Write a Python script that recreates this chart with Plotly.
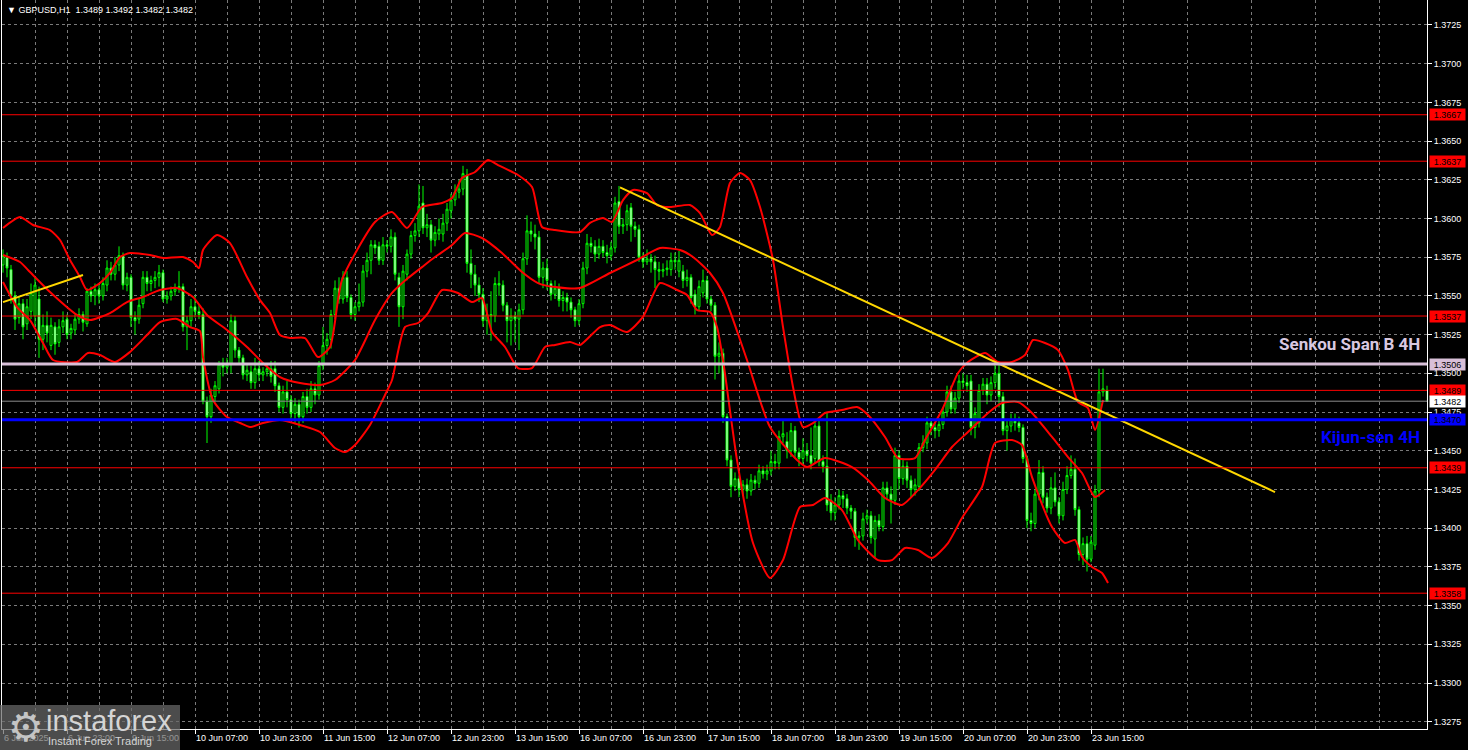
import plotly.graph_objects as go

symbol = "GBPUSD,H1"

opens = [1.3570,1.3575,1.3567,1.3550,1.3536,1.3545,1.3532,1.3540,1.3537,1.3548,
1.3522,1.3531,1.3518,1.3530,1.3520,1.3530,1.3535,1.3526,1.3528,1.3535,
1.3538,1.3532,1.3553,1.3550,1.3554,1.3550,1.3557,1.3568,1.3564,1.3570,
1.3576,1.3557,1.3562,1.3536,1.3535,1.3545,1.3562,1.3558,1.3560,1.3562,
1.3565,1.3548,1.3550,1.3553,1.3555,1.3556,1.3530,1.3534,1.3543,1.3540,
1.3538,1.3482,1.3472,1.3485,1.3490,1.3506,1.3504,1.3506,1.3534,1.3515,
1.3510,1.3499,1.3501,1.3494,1.3503,1.3499,1.3501,1.3503,1.3503,1.3492,
1.3478,1.3488,1.3483,1.3474,1.3480,1.3472,1.3485,1.3478,1.3490,1.3486,
1.3505,1.3518,1.3522,1.3538,1.3555,1.3548,1.3562,1.3549,1.3538,1.3543,
1.3546,1.3566,1.3573,1.3583,1.3582,1.3573,1.3583,1.3582,1.3588,1.3562,
1.3543,1.3564,1.3577,1.3589,1.3592,1.3610,1.3594,1.3596,1.3586,1.3590,
1.3590,1.3597,1.3605,1.3612,1.3617,1.3619,1.3628,1.3571,1.3564,1.3557,
1.3551,1.3534,1.3538,1.3537,1.3558,1.3557,1.3544,1.3534,1.3537,1.3535,
1.3541,1.3574,1.3592,1.3590,1.3588,1.3562,1.3568,1.3558,1.3551,1.3555,
1.3547,1.3549,1.3546,1.3541,1.3534,1.3545,1.3568,1.3584,1.3582,1.3577,
1.3582,1.3578,1.3576,1.3581,1.3611,1.3595,1.3596,1.3607,1.3595,1.3593,
1.3575,1.3572,1.3574,1.3572,1.3567,1.3566,1.3567,1.3567,1.3573,1.3566,
1.3566,1.3560,1.3562,1.3551,1.3543,1.3552,1.3560,1.3548,1.3544,1.3511,
1.3513,1.3472,1.3444,1.3427,1.3432,1.3425,1.3428,1.3424,1.3431,1.3429,
1.3437,1.3435,1.3437,1.3443,1.3442,1.3459,1.3456,1.3450,1.3463,1.3449,
1.3445,1.3450,1.3447,1.3445,1.3466,1.3443,1.3440,1.3418,1.3410,1.3415,
1.3421,1.3419,1.3413,1.3411,1.3394,1.3395,1.3406,1.3408,1.3393,1.3405,
1.3401,1.3426,1.3422,1.3418,1.3447,1.3432,1.3440,1.3431,1.3425,1.3427,
1.3452,1.3455,1.3468,1.3465,1.3463,1.3467,1.3475,1.3488,1.3477,1.3484,
1.3495,1.3494,1.3495,1.3465,1.3468,1.3489,1.3493,1.3486,1.3494,1.3500,
1.3485,1.3463,1.3466,1.3470,1.3468,1.3465,1.3445,1.3405,1.3403,1.3422,
1.3436,1.3420,1.3413,1.3426,1.3417,1.3408,1.3425,1.3434,1.3438,1.3412,
1.3383,1.3390,1.3380,1.3389,1.3424,1.3488,1.3489]

highs = [1.3580,1.3578,1.3570,1.3553,1.3550,1.3548,1.3548,1.3558,1.3562,1.3556,
1.3538,1.3540,1.3536,1.3533,1.3535,1.3540,1.3538,1.3532,1.3538,1.3542,
1.3540,1.3555,1.3556,1.3558,1.3557,1.3562,1.3573,1.3572,1.3575,1.3582,
1.3578,1.3565,1.3564,1.3540,1.3548,1.3566,1.3566,1.3563,1.3566,1.3570,
1.3567,1.3553,1.3556,1.3558,1.3566,1.3558,1.3537,1.3548,1.3550,1.3544,
1.3542,1.3485,1.3490,1.3495,1.3508,1.3510,1.3510,1.3538,1.3537,1.3517,
1.3512,1.3506,1.3505,1.3510,1.3508,1.3504,1.3506,1.3508,1.3508,1.3494,
1.3492,1.3495,1.3486,1.3484,1.3483,1.3488,1.3490,1.3495,1.3494,1.3508,
1.3530,1.3526,1.3541,1.3560,1.3562,1.3566,1.3566,1.3551,1.3546,1.3558,
1.3570,1.3578,1.3586,1.3586,1.3585,1.3588,1.3586,1.3593,1.3591,1.3565,
1.3570,1.3580,1.3592,1.3597,1.3622,1.3621,1.3603,1.3599,1.3595,1.3600,
1.3603,1.3610,1.3616,1.3622,1.3625,1.3634,1.3632,1.3580,1.3570,1.3562,
1.3555,1.3545,1.3553,1.3562,1.3566,1.3560,1.3546,1.3542,1.3540,1.3545,
1.3578,1.3602,1.3598,1.3596,1.3592,1.3572,1.3574,1.3560,1.3560,1.3558,
1.3553,1.3552,1.3549,1.3543,1.3548,1.3572,1.3590,1.3588,1.3586,1.3587,
1.3586,1.3583,1.3585,1.3614,1.3621,1.3600,1.3609,1.3610,1.3598,1.3596,
1.3578,1.3580,1.3577,1.3576,1.3572,1.3571,1.3573,1.3578,1.3578,1.3579,
1.3570,1.3567,1.3564,1.3554,1.3560,1.3567,1.3563,1.3550,1.3546,1.3520,
1.3516,1.3474,1.3447,1.3436,1.3434,1.3431,1.3432,1.3435,1.3434,1.3441,
1.3440,1.3441,1.3450,1.3448,1.3463,1.3470,1.3462,1.3468,1.3466,1.3452,
1.3458,1.3455,1.3465,1.3470,1.3470,1.3447,1.3475,1.3422,1.3420,1.3425,
1.3424,1.3422,1.3415,1.3413,1.3398,1.3410,1.3412,1.3411,1.3408,1.3409,
1.3430,1.3430,1.3427,1.3452,1.3450,1.3445,1.3443,1.3434,1.3432,1.3455,
1.3460,1.3472,1.3471,1.3468,1.3471,1.3478,1.3492,1.3492,1.3488,1.3499,
1.3500,1.3499,1.3499,1.3478,1.3493,1.3497,1.3497,1.3498,1.3507,1.3507,
1.3488,1.3470,1.3474,1.3474,1.3472,1.3467,1.3447,1.3410,1.3425,1.3444,
1.3440,1.3423,1.3433,1.3436,1.3420,1.3430,1.3440,1.3447,1.3445,1.3414,
1.3394,1.3395,1.3395,1.3428,1.3503,1.3503,1.3492]

lows = [1.3565,1.3562,1.3545,1.3528,1.3532,1.3522,1.3528,1.3535,1.3530,1.3510,
1.3515,1.3520,1.3515,1.3512,1.3517,1.3526,1.3522,1.3522,1.3525,1.3532,
1.3527,1.3530,1.3546,1.3544,1.3545,1.3547,1.3553,1.3560,1.3560,1.3566,
1.3554,1.3553,1.3530,1.3525,1.3532,1.3542,1.3553,1.3553,1.3555,1.3556,
1.3546,1.3545,1.3547,1.3550,1.3552,1.3527,1.3515,1.3530,1.3536,1.3535,
1.3480,1.3455,1.3468,1.3482,1.3487,1.3498,1.3500,1.3500,1.3510,1.3506,
1.3496,1.3495,1.3490,1.3490,1.3495,1.3495,1.3498,1.3494,1.3488,1.3475,
1.3474,1.3478,1.3470,1.3468,1.3465,1.3468,1.3474,1.3475,1.3480,1.3483,
1.3502,1.3512,1.3516,1.3535,1.3545,1.3545,1.3546,1.3535,1.3534,1.3540,
1.3543,1.3562,1.3564,1.3577,1.3570,1.3570,1.3578,1.3578,1.3560,1.3530,
1.3535,1.3560,1.3574,1.3585,1.3588,1.3590,1.3588,1.3578,1.3582,1.3586,
1.3585,1.3592,1.3600,1.3608,1.3613,1.3615,1.3565,1.3555,1.3550,1.3546,
1.3530,1.3525,1.3521,1.3533,1.3550,1.3540,1.3520,1.3518,1.3520,1.3515,
1.3538,1.3570,1.3585,1.3580,1.3558,1.3555,1.3554,1.3547,1.3548,1.3543,
1.3540,1.3540,1.3536,1.3530,1.3531,1.3542,1.3564,1.3578,1.3572,1.3574,
1.3575,1.3571,1.3573,1.3578,1.3590,1.3590,1.3592,1.3585,1.3588,1.3572,
1.3568,1.3570,1.3565,1.3555,1.3560,1.3562,1.3563,1.3563,1.3567,1.3562,
1.3555,1.3556,1.3545,1.3538,1.3540,1.3549,1.3545,1.3540,1.3496,1.3500,
1.3468,1.3440,1.3420,1.3424,1.3420,1.3421,1.3419,1.3421,1.3425,1.3426,
1.3432,1.3431,1.3434,1.3438,1.3438,1.3455,1.3445,1.3446,1.3445,1.3440,
1.3441,1.3443,1.3438,1.3442,1.3440,1.3436,1.3411,1.3405,1.3405,1.3412,
1.3413,1.3409,1.3406,1.3388,1.3386,1.3392,1.3403,1.3390,1.3381,1.3398,
1.3398,1.3418,1.3403,1.3415,1.3425,1.3428,1.3426,1.3420,1.3421,1.3424,
1.3449,1.3451,1.3460,1.3458,1.3459,1.3464,1.3472,1.3474,1.3474,1.3481,
1.3490,1.3488,1.3460,1.3458,1.3465,1.3486,1.3480,1.3482,1.3490,1.3478,
1.3460,1.3450,1.3462,1.3463,1.3462,1.3442,1.3400,1.3398,1.3400,1.3418,
1.3416,1.3410,1.3409,1.3414,1.3403,1.3405,1.3422,1.3432,1.3408,1.3379,
1.3376,1.3372,1.3378,1.3386,1.3420,1.3485,1.3482]

closes = [1.3576,1.3568,1.3550,1.3535,1.3545,1.3530,1.3543,1.3552,1.3557,1.3522,
1.3531,1.3526,1.3531,1.3519,1.3530,1.3534,1.3525,1.3529,1.3535,1.3538,
1.3533,1.3553,1.3550,1.3554,1.3550,1.3558,1.3568,1.3564,1.3570,1.3576,
1.3557,1.3562,1.3536,1.3534,1.3544,1.3562,1.3558,1.3560,1.3562,1.3565,
1.3548,1.3550,1.3553,1.3555,1.3556,1.3530,1.3534,1.3543,1.3540,1.3538,
1.3482,1.3472,1.3486,1.3492,1.3506,1.3504,1.3506,1.3534,1.3515,1.3510,
1.3499,1.3502,1.3494,1.3503,1.3499,1.3501,1.3503,1.3498,1.3492,1.3478,
1.3488,1.3483,1.3474,1.3480,1.3472,1.3485,1.3478,1.3490,1.3486,1.3505,
1.3518,1.3522,1.3538,1.3555,1.3548,1.3562,1.3549,1.3538,1.3543,1.3546,
1.3566,1.3573,1.3583,1.3581,1.3573,1.3583,1.3582,1.3588,1.3564,1.3543,
1.3566,1.3577,1.3589,1.3592,1.3608,1.3594,1.3596,1.3586,1.3591,1.3593,
1.3597,1.3606,1.3612,1.3617,1.3619,1.3629,1.3571,1.3564,1.3557,1.3551,
1.3534,1.3538,1.3537,1.3558,1.3557,1.3544,1.3534,1.3537,1.3535,1.3541,
1.3574,1.3592,1.3590,1.3588,1.3562,1.3568,1.3560,1.3551,1.3555,1.3547,
1.3549,1.3546,1.3541,1.3534,1.3545,1.3568,1.3584,1.3582,1.3577,1.3582,
1.3578,1.3576,1.3581,1.3610,1.3595,1.3596,1.3605,1.3595,1.3593,1.3575,
1.3572,1.3574,1.3572,1.3567,1.3566,1.3567,1.3568,1.3573,1.3572,1.3573,
1.3560,1.3562,1.3549,1.3543,1.3556,1.3560,1.3548,1.3544,1.3511,1.3513,
1.3472,1.3444,1.3427,1.3432,1.3425,1.3428,1.3424,1.3431,1.3429,1.3437,
1.3435,1.3437,1.3443,1.3442,1.3459,1.3461,1.3450,1.3463,1.3449,1.3445,
1.3450,1.3447,1.3442,1.3466,1.3443,1.3440,1.3415,1.3410,1.3415,1.3421,
1.3419,1.3413,1.3411,1.3394,1.3395,1.3406,1.3408,1.3394,1.3405,1.3401,
1.3426,1.3422,1.3418,1.3447,1.3432,1.3440,1.3431,1.3425,1.3428,1.3452,
1.3455,1.3468,1.3465,1.3463,1.3467,1.3475,1.3488,1.3477,1.3484,1.3495,
1.3494,1.3492,1.3465,1.3474,1.3489,1.3493,1.3486,1.3494,1.3500,1.3485,
1.3463,1.3466,1.3470,1.3468,1.3465,1.3445,1.3405,1.3403,1.3422,1.3436,
1.3420,1.3413,1.3426,1.3417,1.3408,1.3425,1.3434,1.3438,1.3412,1.3383,
1.3390,1.3380,1.3391,1.3424,1.3488,1.3490,1.3482]

bar_index = list(range(len(closes)))

# x-axis labels (bar index of each label)
tick_pos = [0, 16, 32, 48, 64, 80, 96, 112, 128, 144, 160, 176, 192, 208, 224, 240, 256, 272]
tick_text = ["6 Jun 2025", "6 Jun 23:00", "9 Jun 15:00", "10 Jun 07:00", "10 Jun 23:00",
             "11 Jun 15:00", "12 Jun 07:00", "12 Jun 23:00", "13 Jun 15:00", "16 Jun 07:00",
             "16 Jun 23:00", "17 Jun 15:00", "18 Jun 07:00", "18 Jun 23:00", "19 Jun 15:00",
             "20 Jun 07:00", "20 Jun 23:00", "23 Jun 15:00"]

# Bollinger bands (bar index, price)
bb_up_x = [0,4.25,7.5,11.75,14.25,16.75,19.25,21,24.25,26.75,29.25,31.75,36.75,40,45,47.5,49,50,53.5,56.75,
           61,64.25,66.75,69.25,71.75,75.5,78.75,81.75,84.75,93,97.25,101,104.75,109.75,112.25,114.75,118,121.25,123.75,128.75,
           132.25,134.75,138,144.25,146.75,150,152.25,155,157.5,161,163.5,166.75,171.75,174.25,177.25,179.25,181.75,184.25,186.75,189.25,
           192.5,195,197.5,200,202.5,205.5,209.75,213.5,216.25,220.5,223.75,228,230.5,234.75,238.75,241.25,245.5,248.75,252.25,255.5,
           257.5,260.5,263.75,266.25,268.75,271.25,273,275]
bb_up_y = [1.35938,1.36009,1.35958,1.35925,1.35861,1.35732,1.35622,1.35538,1.35583,1.35648,1.35751,1.35777,1.35764,1.35745,1.35751,1.35719,1.35680,1.35796,1.35893,1.35841,
           1.35622,1.35473,1.35389,1.35247,1.35228,1.35228,1.35105,1.35170,1.35603,1.35977,1.36042,1.35938,1.36074,1.36100,1.36132,1.36261,1.36300,1.36378,1.36345,1.36281,
           1.36203,1.35945,1.35925,1.35913,1.35971,1.36003,1.35977,1.36119,1.36184,1.36164,1.36087,1.36074,1.36087,1.36035,1.35893,1.35945,1.36229,1.36294,1.36248,1.36074,
           1.35732,1.35299,1.34912,1.34653,1.34679,1.34744,1.34763,1.34782,1.34731,1.34589,1.34453,1.34453,1.34569,1.34763,1.35002,1.35073,1.35131,1.35073,1.35073,1.35118,
           1.35215,1.35196,1.35150,1.35021,1.34815,1.34776,1.34634,1.34828]

bb_mid_x = [0,4.25,6.75,11.75,18.5,21.75,26.75,31,35,39.25,43.5,47.5,51,56,61,65,69.25,74.25,79.25,83,
            88,93,97.25,101.25,104.75,108,112.25,115.5,119.75,124.75,129.75,133.75,138,144.25,151.75,158.5,164.25,169.25,172.5,176.75,
            180,186,191.75,198.5,201,205.5,212.25,216.25,220.5,224.75,228.75,233,237.25,241.25,246.25,249.75,253.75,257.25,262.25,266.25,
            269.75,273,275.5]
bb_mid_y = [1.35764,1.35719,1.35654,1.35525,1.35377,1.35344,1.35389,1.35460,1.35493,1.35538,1.35551,1.35493,1.35377,1.35280,1.35170,1.35067,1.34976,1.34937,1.34924,1.34957,
            1.35086,1.35344,1.35519,1.35615,1.35686,1.35751,1.35829,1.35906,1.35874,1.35777,1.35654,1.35583,1.35557,1.35551,1.35648,1.35732,1.35809,1.35796,1.35751,1.35648,
            1.35519,1.35086,1.34653,1.34440,1.34395,1.34453,1.34395,1.34311,1.34195,1.34150,1.34246,1.34376,1.34524,1.34621,1.34744,1.34808,1.34815,1.34744,1.34589,1.34459,
            1.34356,1.34201,1.34246]

bb_low_x = [0,3.5,6.75,10,12.5,18.5,21.25,24.25,28,31.75,36,39.25,43.5,46.75,49.25,50,52.5,56,59.25,61.75,
            65,69.25,74.25,79.25,83,85.5,88,91.75,95.5,97.25,100.5,103.75,106.25,109.75,113.75,117.25,119.75,122.25,125.5,128.75,
            132.25,135.5,138,141.75,144.25,149.25,151.75,156,160,164.25,168.5,171,173.5,176.75,178.5,180,183.5,187.5,191.75,195,
            199.25,202.5,205.5,209.75,213.75,218.75,222.25,225.5,228.75,232.25,236.25,239.75,244.75,248,252.25,254.75,257.25,262.25,265.5,268,
            269.75,272.25,274.75,276.25]
bb_low_y = [1.35590,1.35428,1.35344,1.35196,1.35086,1.35073,1.35131,1.35118,1.35073,1.35138,1.35247,1.35331,1.35351,1.35299,1.35273,1.35105,1.34828,1.34718,1.34679,1.34653,
            1.34679,1.34698,1.34666,1.34621,1.34518,1.34492,1.34537,1.34666,1.34860,1.34957,1.35299,1.35325,1.35389,1.35538,1.35519,1.35460,1.35486,1.35267,1.35170,1.35034,
            1.35034,1.35170,1.35183,1.35202,1.35183,1.35299,1.35312,1.35267,1.35364,1.35583,1.35538,1.35506,1.35409,1.35396,1.35299,1.35086,1.34440,1.33904,1.33678,1.33794,
            1.34137,1.34150,1.34195,1.34117,1.33923,1.33794,1.33794,1.33872,1.33859,1.33807,1.33904,1.34066,1.34266,1.34550,1.34569,1.34537,1.34330,1.34007,1.33904,1.33924,
            1.33814,1.33749,1.33710,1.33646]

# yellow trend lines (bar index, price)
trend1_x = [0, 20]
trend1_y = [1.35460, 1.35635]
trend2_x = [154.25, 318]
trend2_y = [1.36201, 1.34233]

# horizontal levels
red_levels = [1.3667, 1.3637, 1.3537, 1.3489, 1.3439, 1.3358]
senkou_b_4h = 1.3506
kijun_4h = 1.3470
last_price = closes[-1]

FONT = "Liberation Sans, Arial, sans-serif"
GRID = "#7a7a7a"
THISTLE = "#D8BFD8"

fig = go.Figure()

fig.add_trace(go.Candlestick(
    x=bar_index, open=opens, high=highs, low=lows, close=closes,
    increasing=dict(line=dict(color="#00FF00", width=1), fillcolor="#000000"),
    decreasing=dict(line=dict(color="#00FF00", width=1), fillcolor="#FFFFFF"),
    whiskerwidth=0, showlegend=False, hoverinfo="skip"))

for bx, by in [(bb_up_x, bb_up_y), (bb_mid_x, bb_mid_y), (bb_low_x, bb_low_y)]:
    fig.add_trace(go.Scatter(x=bx, y=by, mode="lines",
                             line=dict(color="#FF0000", width=2, shape="spline", smoothing=0.6),
                             showlegend=False, hoverinfo="skip"))

for tx, ty in [(trend1_x, trend1_y), (trend2_x, trend2_y)]:
    fig.add_trace(go.Scatter(x=tx, y=ty, mode="lines",
                             line=dict(color="#FFD700", width=2),
                             showlegend=False, hoverinfo="skip"))

shapes = []
for lv in red_levels:
    shapes.append(dict(type="line", xref="paper", x0=0, x1=1, yref="y", y0=lv, y1=lv,
                       line=dict(color="#FF0000", width=1), layer="above"))
shapes.append(dict(type="line", xref="paper", x0=0, x1=1, yref="y", y0=last_price, y1=last_price,
                   line=dict(color="#8c8c8c", width=1), layer="above"))
shapes.append(dict(type="line", xref="paper", x0=0, x1=1, yref="y", y0=senkou_b_4h, y1=senkou_b_4h,
                   line=dict(color=THISTLE, width=3), layer="above"))
shapes.append(dict(type="line", xref="paper", x0=0, x1=1, yref="y", y0=kijun_4h, y1=kijun_4h,
                   line=dict(color="#0000FF", width=3), layer="above"))

# watermark box (bottom-left)
W, H = 1468, 750
ML, MR, MT, MB = 2, 41, 0, 21
PW, PH = W - ML - MR, H - MT - MB
def px(xp):
    return (xp - ML) / PW
def py(yp):
    return (H - MB - yp) / PH
shapes.append(dict(type="rect", xref="paper", yref="paper", x0=px(0), x1=px(180), y0=py(750), y1=py(705),
                   fillcolor="#6a6a6a", opacity=0.72, line=dict(width=0), layer="above"))

annotations = []
# price boxes on the right axis
box_specs = [(lv, "#FF0000") for lv in red_levels] + [(senkou_b_4h, THISTLE), (last_price, "#FFFFFF"), (kijun_4h, "#0000FF")]
for lv, col in box_specs:
    annotations.append(dict(xref="paper", x=1, xanchor="left", xshift=2, yref="y", y=lv, yanchor="middle",
                            text=f"{lv:.4f}", showarrow=False, bgcolor=col, borderpad=0,
                            width=35, height=11, align="center",
                            font=dict(family=FONT, size=9, color="#000000")))

LBL_FONT = "Roboto, Liberation Sans, Arial, sans-serif"
annotations.append(dict(xref="paper", x=1, xanchor="right", xshift=-5, yref="paper", y=1, yanchor="middle",
                        yshift=-344, text="<b>Senkou Span B 4H</b>", showarrow=False,
                        font=dict(family=LBL_FONT, size=17, color="#D8C8E0")))
annotations.append(dict(xref="paper", x=1, xanchor="right", xshift=-5, yref="paper", y=1, yanchor="middle",
                        yshift=-437, text="<b>Kijun-sen 4H</b>", showarrow=False,
                        font=dict(family=LBL_FONT, size=17, color="#0000FF")))

title_txt = f"\u25BC {symbol}  {opens[-1]:.4f} {highs[-1]:.4f} {lows[-1]:.4f} {closes[-1]:.4f}"
annotations.append(dict(xref="paper", x=0, xanchor="left", xshift=3, yref="paper", y=1, yanchor="top",
                        yshift=-3, text=title_txt, showarrow=False,
                        font=dict(family=FONT, size=9, color="#FFFFFF")))

# watermark texts
annotations.append(dict(xref="paper", x=0, xanchor="center", xshift=24, yref="paper", y=0, yanchor="middle",
                        yshift=729 - 727, text="\u2699", showarrow=False,
                        font=dict(family="DejaVu Sans", size=40, color="#c4c4c4")))
annotations.append(dict(xref="paper", x=0, xanchor="left", xshift=42, yref="paper", y=0, yanchor="middle",
                        yshift=729 - 721, text="instaforex", showarrow=False,
                        font=dict(family="Liberation Sans, Arial", size=29, color="#d4d4d4")))
annotations.append(dict(xref="paper", x=0, xanchor="left", xshift=44, yref="paper", y=0, yanchor="middle",
                        yshift=729 - 741, text="Instant Forex Trading", showarrow=False,
                        font=dict(family="Liberation Sans, Arial", size=11, color="#d4d4d4")))

fig.update_layout(
    width=W, height=H,
    margin=dict(l=ML, r=MR, t=MT, b=MB, pad=0),
    paper_bgcolor="#000000", plot_bgcolor="#000000",
    shapes=shapes, annotations=annotations,
    showlegend=False,
    xaxis=dict(range=[-0.25, 356], rangeslider=dict(visible=False),
               tickmode="array", tickvals=tick_pos, ticktext=tick_text,
               ticks="outside", ticklen=4, tickcolor="#FFFFFF", ticklabelposition="outside right",
               tickfont=dict(family=FONT, size=9, color="#FFFFFF"),
               showline=True, linecolor="#FFFFFF", linewidth=1,
               showgrid=True, gridcolor=GRID, griddash="3px,3px", gridwidth=1,
               minor=dict(tickmode="array", tickvals=list(range(8, 357, 16)), showgrid=True,
                          gridcolor=GRID, griddash="3px,3px", gridwidth=1, ticks=""),
               zeroline=False, fixedrange=True),
    yaxis=dict(range=[1.32703, 1.37411], side="right",
               tickmode="linear", tick0=1.3, dtick=0.0025, tickformat=".4f",
               ticks="outside", ticklen=4, tickcolor="#FFFFFF",
               tickfont=dict(family=FONT, size=9, color="#FFFFFF"),
               showline=True, linecolor="#FFFFFF", linewidth=1, mirror=True,
               showgrid=True, gridcolor=GRID, griddash="3px,3px", gridwidth=1,
               zeroline=False, fixedrange=True),
)

fig.write_html("out.html", config={"displayModeBar": False},
               post_script="document.body.style.margin='0px';document.body.style.background='#000';")
